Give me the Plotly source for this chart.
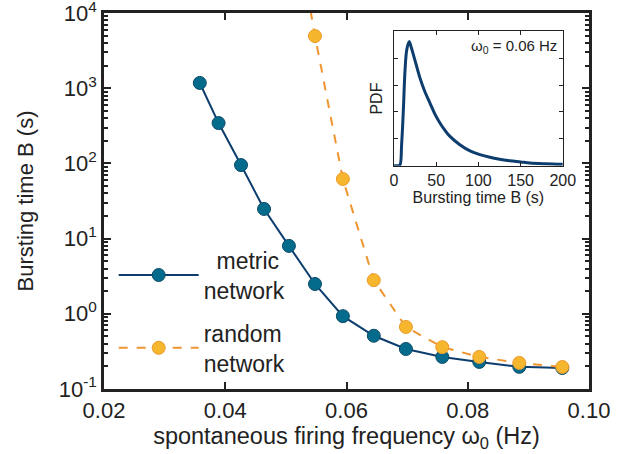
import plotly.graph_objects as go

# ---- data ----
freq = [0.0358, 0.0389, 0.0426, 0.0464, 0.0505, 0.0548, 0.0594, 0.0645, 0.0698, 0.0758, 0.0819, 0.0885, 0.0956]
metric_B = [1175, 344, 95, 24.8, 8.0, 2.49, 0.93, 0.51, 0.34, 0.267, 0.229, 0.197, 0.19]
freq_random = [0.0505, 0.0548, 0.0594, 0.0645, 0.0698, 0.0758, 0.0819, 0.0885, 0.0956]
random_B = [480000, 4940, 62, 2.8, 0.667, 0.36, 0.267, 0.222, 0.196]

pdf_B = [0, 5, 7, 9, 11, 13, 15, 17.8, 20, 25, 30.8, 36, 42.6, 48, 54.4, 60, 66, 78, 90, 101.8, 113.6, 125, 137, 150, 161, 180, 200]
pdf_val = [0, 0, 0.02, 0.8, 2.03, 3.53, 4.3, 4.62, 4.45, 3.9, 3.26, 2.8, 2.33, 1.95, 1.59, 1.33, 1.10, 0.78, 0.55, 0.41, 0.31, 0.24, 0.186, 0.14, 0.10, 0.07, 0.05]

xticks = [0.02, 0.04, 0.06, 0.08, 0.10]
xticklabels = ["0.02", "0.04", "0.06", "0.08", "0.10"]
yticks = [0.1, 1, 10, 100, 1000, 10000]
yticklabels = ["10<sup>-1</sup>", "10<sup>0</sup>", "10<sup>1</sup>", "10<sup>2</sup>", "10<sup>3</sup>", "10<sup>4</sup>"]
inset_xticks = [0, 50, 100, 150, 200]

FONT = "Liberation Sans, Arial, sans-serif"
navy = "#0c3d6e"
teal = "#056b8c"
orange = "#ef9530"
yellow = "#f6b72f"

fig = go.Figure()

fig.add_trace(go.Scatter(
    x=freq, y=metric_B, mode="lines+markers",
    name="\u00a0\u00a0metric<br>network",
    line=dict(color=navy, width=2),
    marker=dict(size=13, color=teal, line=dict(color="#0a4a66", width=1)),
    legendgroup="a",
))
fig.add_trace(go.Scatter(
    x=freq_random, y=random_B, mode="lines+markers",
    name="random<br>network",
    line=dict(color=orange, width=2, dash="dash"),
    marker=dict(size=13, color=yellow, line=dict(color="#ee9a2a", width=1)),
    legendgroup="b",
))

fig.add_trace(go.Scatter(
    x=pdf_B, y=pdf_val, mode="lines", line=dict(color=navy, width=3, shape="spline"),
    xaxis="x2", yaxis="y2", showlegend=False,
))

axis_common = dict(
    showline=True, linecolor="#222", linewidth=2.5, mirror="ticks",
    ticks="inside", tickcolor="#222", showgrid=False, zeroline=False, automargin=False,
    ticklabeloverflow="allow",
)

fig.update_layout(
    width=623, height=454,
    margin=dict(l=104, r=34, t=13, b=65),
    paper_bgcolor="white", plot_bgcolor="white",
    font=dict(family=FONT, color="#222"),
    xaxis=dict(
        range=[0.02, 0.10], tickvals=xticks, ticktext=xticklabels,
        ticklen=7, tickwidth=2, tickfont=dict(size=22),
        title=dict(text="spontaneous firing frequency ω<sub>0</sub> (Hz)", font=dict(size=23.5), standoff=4),
        **axis_common,
    ),
    yaxis=dict(
        type="log", range=[-1.0005, 4.0005], tickvals=yticks, ticktext=yticklabels,
        ticklen=7, tickwidth=2, tickfont=dict(size=22),
        minor=dict(ticks="inside", ticklen=4, tickwidth=1.5, tickcolor="#222", dtick="D1", showgrid=False),
        title=dict(text="Bursting time B (s)", font=dict(size=22), standoff=19),
        **axis_common,
    ),
    xaxis2=dict(
        domain=[0.598, 0.946], anchor="y2", range=[0, 200], tickvals=inset_xticks,
        ticklen=4, tickwidth=1, tickfont=dict(size=16),
        title=dict(text="Bursting time B (s)", font=dict(size=16), standoff=2),
        showline=True, linecolor="#222", linewidth=1, mirror="ticks",
        ticks="inside", tickcolor="#222", showgrid=False, zeroline=False,
    ),
    yaxis2=dict(
        domain=[0.594, 0.951], anchor="x2", range=[0, 5], dtick=1, showticklabels=False,
        ticklen=4, tickwidth=1,
        title=dict(text="PDF", font=dict(size=16), standoff=6),
        showline=True, linecolor="#222", linewidth=1, mirror="ticks",
        ticks="inside", tickcolor="#222", showgrid=False, zeroline=False,
    ),
    legend=dict(
        x=0.02, y=0.40, xanchor="left", yanchor="top",
        bgcolor="rgba(0,0,0,0)", font=dict(size=23, family=FONT),
        itemwidth=80, tracegroupgap=10, valign="middle",
    ),
    showlegend=True,
    annotations=[dict(
        xref="x2 domain", yref="y2 domain", x=0.98, y=0.97, xanchor="right", yanchor="top",
        text="ω<sub>0</sub> = 0.06 Hz", showarrow=False, font=dict(size=15, family=FONT, color="#222"),
    )],
)

fig.write_html(
    "out.html",
    config={"displayModeBar": False},
    post_script="document.body.style.margin='0';document.body.style.overflow='hidden';",
)
